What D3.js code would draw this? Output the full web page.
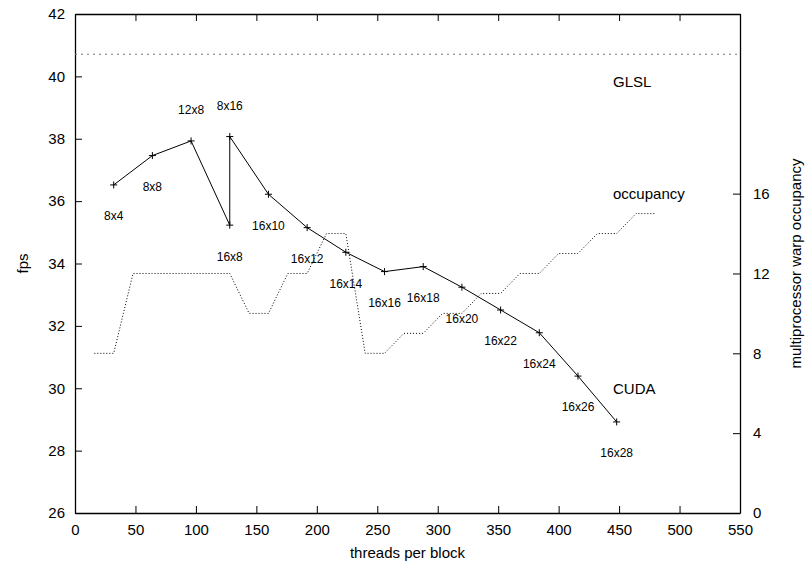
<!DOCTYPE html>
<html>
<head>
<meta charset="utf-8">
<script src="https://cdn.jsdelivr.net/npm/d3@7"></script>
<style>
  body { margin: 0; background: #fff; }
  svg { font-family: "Liberation Sans", Arial, sans-serif; }
</style>
</head>
<body>
<svg id="chart" width="805" height="566"></svg>
<script>
// CUDA measurements (in the order the line was drawn)
var cudaLabels = ["8x4", "8x8", "12x8", "16x8", "8x16", "16x10", "16x12", "16x14", "16x16", "16x18", "16x20", "16x22", "16x24", "16x26", "16x28"];
var cudaThreads = [32, 64, 96, 128, 128, 160, 192, 224, 256, 288, 320, 352, 384, 416, 448];
var cudaFps = [36.52, 37.46, 37.93, 35.23, 38.07, 36.22, 35.15, 34.36, 33.74, 33.9, 33.24, 32.51, 31.78, 30.39, 28.92];

// GLSL reference
var glslFps = 40.71;

// multiprocessor warp occupancy
var occThreads = [16, 32, 48, 64, 80, 96, 112, 128, 144, 160, 176, 192, 208, 224, 240, 256, 272, 288, 304, 320, 336, 352, 368, 384, 400, 416, 432, 448, 464, 480];
var occValues = [8, 8, 12, 12, 12, 12, 12, 12, 10, 10, 12, 12, 14, 14, 8, 8, 9, 9, 10, 10, 11, 11, 12, 12, 13, 13, 14, 14, 15, 15];

var xTicks = [0, 50, 100, 150, 200, 250, 300, 350, 400, 450, 500, 550];
var yTicks = [26, 28, 30, 32, 34, 36, 38, 40, 42];
var y2Ticks = [0, 4, 8, 12, 16];

var svg = d3.select("#chart");
var margin = {top: 14, right: 65, bottom: 53, left: 75};
var W = 805, H = 566;
var w = W - margin.left - margin.right;
var h = H - margin.top - margin.bottom;

var g = svg.append("g").attr("transform", "translate(" + margin.left + "," + margin.top + ")");

var x = d3.scaleLinear().domain([0, 550]).range([0, w]);
var y = d3.scaleLinear().domain([26, 42]).range([h, 0]);
var y2 = d3.scaleLinear().domain([0, 25]).range([h, 0]);

function styleAxis(sel) {
  sel.selectAll("path").attr("stroke", "#000").attr("stroke-width", 1.3);
  sel.selectAll("line").attr("stroke", "#000");
  sel.selectAll("text").attr("font-size", "15px").attr("fill", "#000");
  sel.attr("font-family", null);
}

g.append("g").attr("transform", "translate(0," + h + ")")
  .call(d3.axisBottom(x).tickValues(xTicks).tickSizeInner(-7).tickSizeOuter(0).tickPadding(11))
  .call(styleAxis);

g.append("g")
  .call(d3.axisTop(x).tickValues(xTicks).tickSizeInner(-7).tickSizeOuter(0).tickFormat(""))
  .call(styleAxis);

g.append("g")
  .call(d3.axisLeft(y).tickValues(yTicks).tickSizeInner(-7).tickSizeOuter(0).tickPadding(10))
  .call(styleAxis);

g.append("g").attr("transform", "translate(" + w + ",0)")
  .call(d3.axisRight(y2).tickValues(y2Ticks).tickSizeInner(-7).tickSizeOuter(0).tickPadding(13))
  .call(styleAxis);

// GLSL line
g.append("line")
  .attr("x1", 0).attr("x2", w)
  .attr("y1", y(glslFps)).attr("y2", y(glslFps))
  .attr("stroke", "#777").attr("stroke-width", 1.2)
  .attr("stroke-dasharray", "2,4");

// occupancy line
var occData = occThreads.map(function(t, i) { return {t: t, v: occValues[i]}; });
g.append("path").datum(occData)
  .attr("fill", "none").attr("stroke", "#000").attr("stroke-width", 1)
  .attr("stroke-dasharray", "1,2")
  .attr("d", d3.line().x(function(d) { return x(d.t); }).y(function(d) { return y2(d.v); }));

// CUDA line
var cuda = cudaThreads.map(function(t, i) { return {t: t, fps: cudaFps[i], name: cudaLabels[i]}; });
g.append("path").datum(cuda)
  .attr("fill", "none").attr("stroke", "#000").attr("stroke-width", 1)
  .attr("d", d3.line().x(function(d) { return x(d.t); }).y(function(d) { return y(d.fps); }));

g.selectAll(".pt").data(cuda).enter().append("path")
  .attr("class", "pt")
  .attr("transform", function(d) { return "translate(" + x(d.t) + "," + y(d.fps) + ")"; })
  .attr("d", "M-3.5,0H3.5M0,-3.5V3.5")
  .attr("stroke", "#000").attr("stroke-width", 1);

// point labels: the two peaks are labelled above, the rest below
var above = ["12x8", "8x16"];
g.selectAll(".lbl").data(cuda).enter().append("text")
  .attr("class", "lbl")
  .attr("x", function(d) { return x(d.t); })
  .attr("y", function(d) { return y(d.fps + (above.indexOf(d.name) >= 0 ? 1 : -1)); })
  .attr("dy", "0.35em")
  .attr("text-anchor", "middle")
  .attr("font-size", "12px")
  .text(function(d) { return d.name; });

// series labels
g.append("text").attr("x", x(445)).attr("y", y(39.83)).attr("dy", "0.35em")
  .attr("font-size", "15px").text("GLSL");
g.append("text").attr("x", x(445)).attr("y", y2(16)).attr("dy", "0.35em")
  .attr("font-size", "15px").text("occupancy");
g.append("text").attr("x", x(445)).attr("y", y(29.97)).attr("dy", "0.35em")
  .attr("font-size", "15px").text("CUDA");

// axis titles
svg.append("text")
  .attr("transform", "translate(23," + (margin.top + h / 2) + ") rotate(-90)")
  .attr("text-anchor", "middle").attr("dy", "0.35em")
  .attr("font-size", "15px").text("fps");

svg.append("text")
  .attr("x", margin.left + w / 2).attr("y", 553)
  .attr("text-anchor", "middle").attr("dy", "0.35em")
  .attr("font-size", "15px").text("threads per block");

svg.append("text")
  .attr("transform", "translate(796," + (margin.top + h / 2) + ") rotate(-90)")
  .attr("text-anchor", "middle").attr("dy", "0.35em")
  .attr("font-size", "15px").text("multiprocessor warp occupancy");
</script>
</body>
</html>
